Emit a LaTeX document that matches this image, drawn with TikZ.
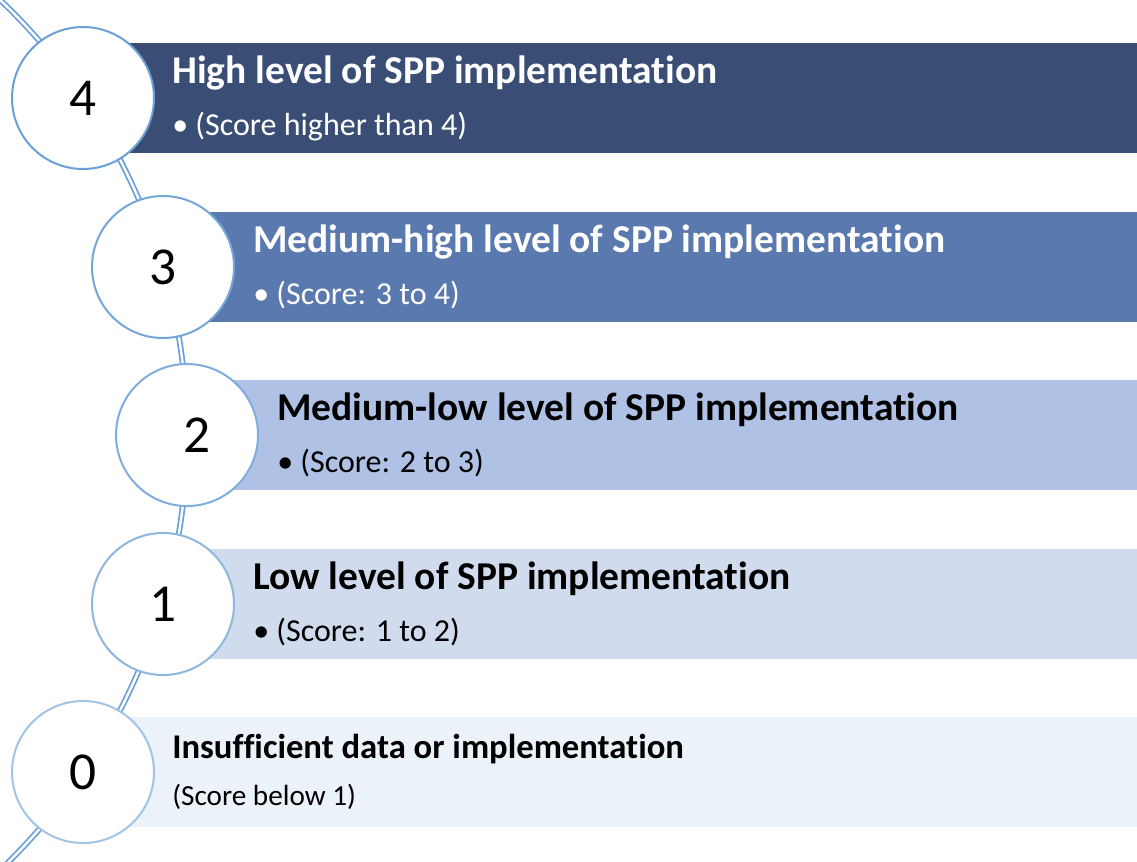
\documentclass[tikz,border=0pt]{standalone}
\usepackage{fontspec}
\setmainfont{Carlito}[RawFeature={-liga;-clig;-calt;-dlig}]
\definecolor{barA}{HTML}{3A4E75}
\definecolor{barB}{HTML}{5A79AF}
\definecolor{barC}{HTML}{AFC2E6}
\definecolor{barD}{HTML}{D0DCEE}
\definecolor{barE}{HTML}{EBF2FA}
\definecolor{ringA}{HTML}{6A9FD8}
\definecolor{ringB}{HTML}{74A6DA}
\definecolor{ringC}{HTML}{80ADDD}
\definecolor{ringD}{HTML}{8DB6E1}
\definecolor{ringE}{HTML}{A0C4E8}
\definecolor{spine}{HTML}{6A9FD8}
\begin{document}
\begin{tikzpicture}[x=0.75pt,y=-0.75pt,
  bar/.style={draw=none,anchor=north west,inner sep=0,minimum height=110*0.75pt},
  ring/.style={circle,draw,line width=1.5pt,fill=white,minimum size=142*0.75pt,inner sep=0,
    font=\fontsize{40}{44}\selectfont},
  ttl/.style={anchor=base west,inner sep=0,font=\fontsize{29.6}{34}\bfseries\selectfont},
  sub/.style={anchor=base west,inner sep=0,font=\fontsize{24}{28}\selectfont},
  ttlsmall/.style={anchor=base west,inner sep=0,font=\fontsize{26}{30}\bfseries\selectfont},
  subsmall/.style={anchor=base west,inner sep=0,font=\fontsize{21.9}{26}\selectfont}]
\useasboundingbox (0,0) rectangle (1137,861);
\clip (0,0) rectangle (1137,861);
% spine
\draw[spine,line width=1.3pt,double=white,double distance=1.8pt]
  plot[domain=-48:47,samples=120] ({-413+600*cos(\x)},{435+600*sin(\x)});
% bars
\node[bar,fill=barA,minimum width=1009*0.75pt] (b4) at (128,43) {};
\node[bar,fill=barB,minimum width=929*0.75pt] (b3) at (208,212) {};
\node[bar,fill=barC,minimum width=904*0.75pt] (b2) at (233,380) {};
\node[bar,fill=barD,minimum width=929*0.75pt] (b1) at (208,549) {};
\node[bar,fill=barE,minimum width=1007*0.75pt] (b0) at (130,717) {};
% texts
\node[ttl,text=white] (t4) at (172,83) {High level of SPP implementation};
\node[sub,text=white] (s4) at (172,135) {• (Score higher than 4)};
\node[ttl,text=white] (t3) at (253,252) {Medium-high level of SPP implementation};
\node[sub,text=white] (s3) at (253,304) {• (Score: 3 to 4)};
\node[ttl] (t2) at (277,420) {Medium-low level of SPP implementation};
\node[sub] (s2) at (277,472) {• (Score: 2 to 3)};
\node[ttl] (t1) at (253,589) {Low level of SPP implementation};
\node[sub] (s1) at (253,641) {• (Score: 1 to 2)};
\node[ttlsmall] (t0) at (172,758) {Insufficient data or implementation};
\node[subsmall] (s0) at (172,805) {(Score below 1)};
% circles
\node[ring,draw=ringA] (c4) at (83,98) {4};
\node[ring,draw=ringB] (c3) at (163,267) {3};
\node[ring,draw=ringC] (c2) at (187,435) {\hspace*{15pt}2};
\node[ring,draw=ringD] (c1) at (163,604) {1};
\node[ring,draw=ringE] (c0) at (83,772) {0};
\end{tikzpicture}
\end{document}
